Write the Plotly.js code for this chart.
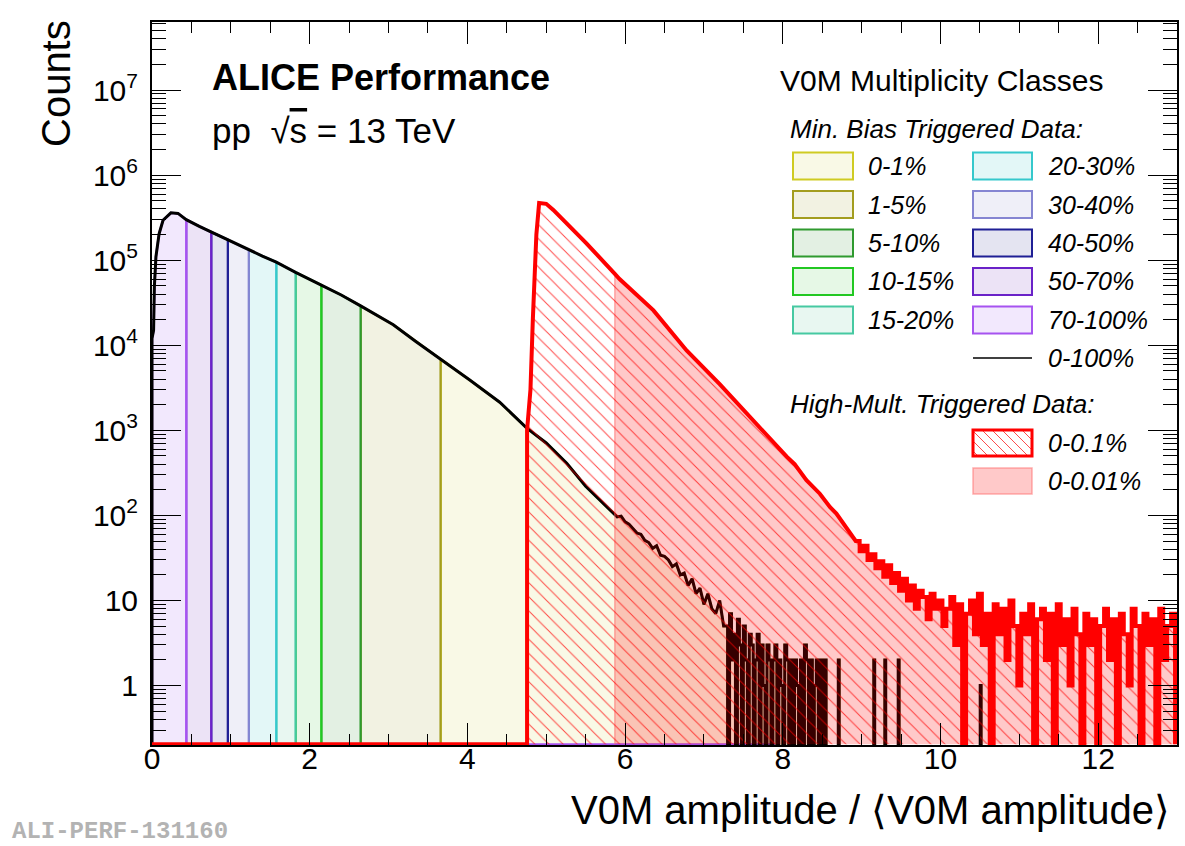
<!DOCTYPE html>
<html><head><meta charset="utf-8">
<script src="https://cdn.plot.ly/plotly-3.0.1.min.js"></script>
<style>body{margin:0;background:#fff}#chart{width:1185px;height:846px}</style>
</head><body><div id="chart"></div>
<script>
// ================= DATA =================
// Minimum-bias 0-100% distribution, smooth part: x = V0M amplitude/<V0M amplitude>, y = counts
const mbX = [0.0, 0.02, 0.03, 0.05, 0.09, 0.14, 0.24, 0.33, 0.434, 0.6, 0.751, 0.962, 1.228, 1.4, 1.576, 1.821, 2.147, 2.4, 2.646, 3.06, 3.35, 3.66, 4.03, 4.41, 4.75, 5.0, 5.26, 5.5, 5.81];
const mbY = [1.2e4, 1.5e4, 4.9e4, 1.1e5, 2.04e5, 2.95e5, 3.6e5, 3.55e5, 3.0e5, 2.5e5, 2.14e5, 1.74e5, 1.32e5, 1.12e5, 9.5e4, 7.2e4, 5.1e4, 3.9e4, 2.9e4, 1.74e4, 1.1e4, 6.9e3, 3.9e3, 2.14e3, 1.07e3, 710, 410, 220, 115];
// Minimum-bias noisy tail, part 1: bin centres every 0.05 starting at 5.85 (drawn point to point)
const mbTailStart = 5.85, mbTailWidth = 0.05;
const mbTailY = [108, 96, 98, 84, 79, 70, 62, 60, 51, 48, 41, 44, 34, 33, 30, 25, 27, 20, 21, 15, 18, 12, 14, 9, 12, 8, 7, 10, 5];
// Minimum-bias noisy tail, part 2: bins of width 0.025 starting at bin centre 7.2875
const mbTail2Start = 7.2875, mbTail2Width = 0.025;
const mbTail2Y = [5, 0, 7, 2, 4, 0, 6, 3, 0, 5, 2, 0, 4, 3, 0, 2, 4, 0, 3, 1, 0, 3, 2, 0, 2, 3, 0, 2, 1, 0, 3, 2, 0, 2, 0, 2, 1, 0, 2, 0, 3, 2, 0, 2, 0, 1, 2, 0, 2, 0, 2];
// Isolated single bins further out
const mbSparseX = [8.71, 9.16, 9.30, 9.47, 10.51];
const mbSparseY = [2, 2, 2, 2, 1];
// empty 70-100% bins drawn on the frame up to this x
const purpleBaseEnd = 7.9;

// Centrality class edges in x (0-1% at high x ... 70-100% at low x)
const classNames = ['0-1%', '1-5%', '5-10%', '10-15%', '15-20%', '20-30%', '30-40%', '40-50%', '50-70%', '70-100%'];
const classEdges = [13, 3.66, 2.646, 2.147, 1.821, 1.576, 1.228, 0.962, 0.751, 0.434, 0];
const classLine = ['#cfcb22', '#a39d1f', '#2f9a2f', '#22c822', '#46c9a2', '#35c8cc', '#8585d2', '#1f1f95', '#6a22c8', '#a653f0'];
const classFill = ['#f9f9e6', '#f2f2e2', '#e3f0e3', '#e6f8e6', '#e8f7f1', '#e3f7f7', '#efeff8', '#e4e4f1', '#ece3f6', '#f2e8fd'];

// High-multiplicity triggered 0-0.1%, smooth part
const hmX = [4.757, 4.80, 4.83, 4.85, 4.875, 4.91, 5.0, 5.09, 5.51, 5.87, 5.93, 6.36, 6.78, 7.20, 7.62, 7.85, 8.05, 8.15, 8.30, 8.47, 8.60, 8.68, 8.75, 8.89];
const hmY = [1000, 3000, 2.0e4, 6.0e4, 2.0e5, 4.7e5, 4.6e5, 3.9e5, 1.58e5, 6.9e4, 6.0e4, 2.57e4, 8.7e3, 3.5e3, 1.32e3, 760, 490, 400, 260, 180, 125, 105, 85, 55];
// High-multiplicity noisy tail: bins of width 0.05 starting at bin centre 8.95
const hmTailStart = 8.95, hmTailWidth = 0.05;
const hmTailY = [50, 38, 44, 30, 35, 24, 29, 19, 26, 16, 21,
                 13, 18, 10, 15, 8, 13, 11, 6, 12, 8,
                 10, 5, 8, 11, 3, 9, 0, 7, 10, 4,
                 12, 3, 7, 0, 9, 4, 8, 2, 10, 5,
                 1, 7, 4, 9, 0, 6, 8, 2, 7, 0,
                 9, 3, 6, 1, 8, 4, 0, 7, 3, 6,
                 0, 5, 8, 2, 6, 0, 7, 4, 1, 8,
                 5, 0, 7, 3, 6, 0, 8, 2, 5, 7];
const hmCut = 4.757;      // start of high-mult. triggered sample
const hm001Start = 5.87;  // start of 0-0.01% class

// Axis ticks
const xTickVals = [0, 2, 4, 6, 8, 10, 12];
const yTickVals = [1, 10, 100, 1e3, 1e4, 1e5, 1e6, 1e7];
const yTickText = ['1', '10', '10<sup>2</sup>', '10<sup>3</sup>', '10<sup>4</sup>', '10<sup>5</sup>', '10<sup>6</sup>', '10<sup>7</sup>'];

// ================= LAYOUT CONSTANTS =================
const FONT = 'Liberation Sans, Arial, Helvetica, sans-serif';
const W = 1185, H = 846, ML = 152, MR = 8, MT = 22, MB = 101;
const PW = W - ML - MR, PH = H - MT - MB;
const px = x => (x - ML) / PW, py = y => (H - MB - y) / PH;
const X_RANGE = [0, 13];
const Y_MIN = 0.2, Y_MAX_LOG = 7.8;
const FLOOR = 0.03;                               // zero counts: drawn below the frame
const RED_ZERO = Math.pow(10, Math.log10(Y_MIN) + 0.01); // ROOT draws empty bins on the frame

// ================= BUILD POLYLINES =================
function stepPoints(start, w, vals, zero) {
  const xs = [], ys = [];
  vals.forEach((v, i) => {
    const c = start + i * w;
    const y = v > 0 ? v : zero;
    xs.push(c - w / 2, c + w / 2); ys.push(y, y);
  });
  return [xs, ys];
}
// black 0-100%
let BX = [0].concat(mbX), BY = [FLOOR].concat(mbY);
{
  mbTailY.forEach((v, i) => { BX.push(mbTailStart + i * mbTailWidth); BY.push(v > 0 ? v : FLOOR); });
  const [tx, ty] = stepPoints(mbTail2Start, mbTail2Width, mbTail2Y, FLOOR);
  BX = BX.concat(tx); BY = BY.concat(ty);
  BX.push(BX[BX.length - 1]); BY.push(FLOOR);
  const sw = 0.012;
  mbSparseX.forEach((x, i) => {
    BX.push(x - sw / 2, x - sw / 2, x + sw / 2, x + sw / 2);
    BY.push(FLOOR, mbSparseY[i], mbSparseY[i], FLOOR);
  });
  BX.push(X_RANGE[1]); BY.push(FLOOR);
}
// red 0-0.1%
let RX = [0, hmCut].concat(hmX), RY = [RED_ZERO, RED_ZERO].concat(hmY);
{
  const [tx, ty] = stepPoints(hmTailStart, hmTailWidth, hmTailY, RED_ZERO);
  RX = RX.concat(tx); RY = RY.concat(ty);
  RX.push(RX[RX.length - 1]); RY.push(RED_ZERO);
}

const traces = [];
// centrality classes: slices of the 0-100% histogram
for (let k = 0; k < classNames.length; k++) {
  const hi = classEdges[k], lo = classEdges[k + 1];
  const xs = [lo], ys = [FLOOR];
  for (let i = 0; i < BX.length; i++) {
    if (BX[i] >= lo && BX[i] <= hi) { xs.push(BX[i]); ys.push(BY[i]); }
  }
  xs.push(Math.min(hi, BX[BX.length - 1])); ys.push(FLOOR);
  traces.push({
    x: xs, y: ys, mode: 'lines', fill: 'toself', fillcolor: classFill[k],
    line: {color: classLine[k], width: 2.3}, hoverinfo: 'skip', showlegend: false
  });
}
traces.push({x: [0, purpleBaseEnd], y: [RED_ZERO, RED_ZERO], mode: 'lines',
  line: {color: classLine[classLine.length - 1], width: 2}, hoverinfo: 'skip', showlegend: false});
traces.push({x: BX, y: BY, mode: 'lines', line: {color: 'black', width: 3}, hoverinfo: 'skip', showlegend: false});
// 0-0.01% (pink): slice of HM histogram
{
  const xs = [hm001Start], ys = [RED_ZERO];
  for (let i = 0; i < RX.length; i++) if (RX[i] >= hm001Start) { xs.push(RX[i]); ys.push(RY[i]); }
  traces.push({x: xs, y: ys, mode: 'lines', fill: 'toself', fillcolor: 'rgba(255,0,0,0.21)',
    line: {color: 'rgba(255,110,110,0.55)', width: 1.5}, hoverinfo: 'skip', showlegend: false});
}
traces.push({x: RX, y: RY, mode: 'lines', fill: 'toself', fillcolor: 'rgba(0,0,0,0)',
  fillpattern: {shape: '\\', fgcolor: 'rgb(255,0,0)', fgopacity: 0.7, size: 10, solidity: 0.1},
  line: {color: 'rgb(255,0,0)', width: 4}, hoverinfo: 'skip', showlegend: false});

// ================= LEGEND / TEXT =================
const shapes = [], ann = [];
function text(t, x, y, size, opts = {}) {
  ann.push(Object.assign({text: t, x: px(x), y: py(y), xref: 'paper', yref: 'paper', showarrow: false,
    xanchor: 'left', yanchor: 'middle', font: {family: FONT, size: size, color: 'black'}}, opts));
}
text('<b>ALICE Performance</b>', 210, 78, 36);
text('pp  √<span style="text-decoration:overline">s</span> = 13 TeV', 210, 130, 35);
text('V0M Multiplicity Classes', 778, 80, 30);
text('<i>Min. Bias Triggered Data:</i>', 788, 129, 26);
text('<i>High-Mult. Triggered Data:</i>', 788, 404, 26);
text('Counts', 56, 84, 40, {textangle: -90, xanchor: 'center'});
text('V0M amplitude / ⟨V0M amplitude⟩', 1172, 810, 40, {xanchor: 'right'});
text('<b>ALI-PERF-131160</b>', 10, 831, 24, {font: {family: 'Courier New, Liberation Mono, monospace', size: 24, color: '#b3b3b3'}});

const colX = [[793, 853, 866], [973, 1032, 1046]];
const rowY = [166, 204.5, 243, 281.5, 320];
const BH = 13.5;
classNames.forEach((name, k) => {
  const c = colX[Math.floor(k / 5)], y = rowY[k % 5];
  shapes.push({type: 'rect', xref: 'paper', yref: 'paper', x0: px(c[0]), x1: px(c[1]), y0: py(y + BH), y1: py(y - BH),
    fillcolor: classFill[k], line: {color: classLine[k], width: 2}});
  text('<i>' + name + '</i>', c[2], y, 25);
});
shapes.push({type: 'line', xref: 'paper', yref: 'paper', x0: px(973), x1: px(1032), y0: py(358), y1: py(358), line: {color: 'black', width: 1.5}});
text('<i>0-100%</i>', 1046, 358, 25);
// hatched swatch
{
  const x0 = 973, x1 = 1032, y0 = 430, y1 = 456;
  for (let c = y0 - x1; c <= y1 - x0; c += 10) {
    const xa = Math.max(x0, y0 - c), xb = Math.min(x1, y1 - c);
    if (xb > xa) shapes.push({type: 'line', xref: 'paper', yref: 'paper', x0: px(xa), y0: py(xa + c), x1: px(xb), y1: py(xb + c),
      line: {color: 'rgba(255,0,0,0.7)', width: 1}});
  }
  shapes.push({type: 'rect', xref: 'paper', yref: 'paper', x0: px(x0), x1: px(x1), y0: py(y1), y1: py(y0),
    line: {color: 'red', width: 3}, fillcolor: 'rgba(0,0,0,0)'});
  text('<i>0-0.1%</i>', 1046, 443, 25);
  shapes.push({type: 'rect', xref: 'paper', yref: 'paper', x0: px(973), x1: px(1032), y0: py(494), y1: py(468),
    line: {color: 'rgba(255,110,110,0.55)', width: 1.5}, fillcolor: 'rgba(255,0,0,0.21)'});
  text('<i>0-0.01%</i>', 1046, 481, 25);
}

// minor y ticks (2..9 per decade)
const yMinor = [];
for (let d = -1; d <= 7; d++) for (let m = 2; m <= 9; m++) yMinor.push(m * Math.pow(10, d));

const layout = {
  width: W, height: H, margin: {l: ML, r: MR, t: MT, b: MB, pad: 0},
  paper_bgcolor: 'white', plot_bgcolor: 'white', showlegend: false,
  xaxis: {range: X_RANGE, tickmode: 'array', tickvals: xTickVals, ticks: 'inside', ticklen: 22, tickwidth: 1, tickcolor: 'black',
    minor: {dtick: 0.5, tick0: 0, ticks: 'inside', ticklen: 11, tickwidth: 1, tickcolor: 'black', showgrid: false},
    showline: true, linecolor: 'black', linewidth: 2, mirror: 'allticks', showgrid: false, zeroline: false,
    ticklabelstandoff: -14,
    tickfont: {family: FONT, size: 30, color: 'black'}},
  yaxis: {type: 'log', range: [Math.log10(Y_MIN), Y_MAX_LOG], tickmode: 'array', tickvals: yTickVals, ticktext: yTickText,
    ticks: 'inside', ticklen: 29, tickwidth: 1, tickcolor: 'black',
    minor: {tickmode: 'array', tickvals: yMinor, ticks: 'inside', ticklen: 14, tickwidth: 1, tickcolor: 'black', showgrid: false},
    showline: true, linecolor: 'black', linewidth: 2, mirror: 'allticks', showgrid: false, zeroline: false,
    ticklabelstandoff: 6,
    tickfont: {family: FONT, size: 30, color: 'black'}},
  shapes: shapes, annotations: ann
};
Plotly.newPlot('chart', traces, layout, {staticPlot: true, displayModeBar: false});
</script></body></html>
